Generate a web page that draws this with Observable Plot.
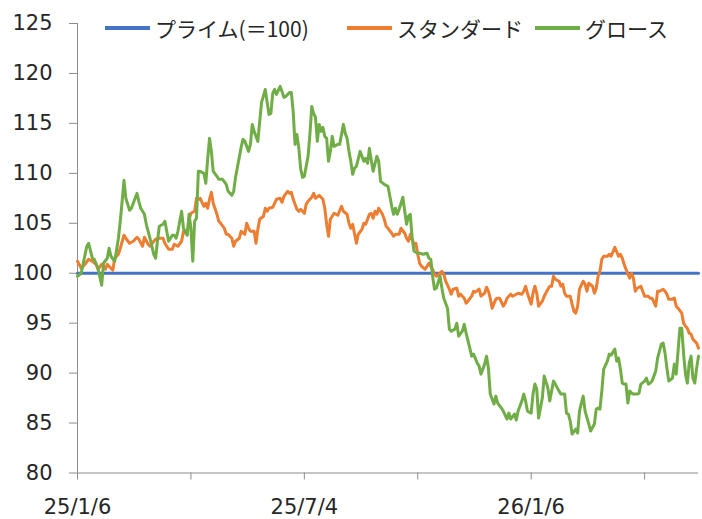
<!DOCTYPE html>
<html>
<head>
<meta charset="utf-8">
<script src="https://cdn.jsdelivr.net/npm/d3@7"></script>
<script src="https://cdn.jsdelivr.net/npm/@observablehq/plot@0.6"></script>
<style>
  html, body { margin: 0; padding: 0; background: #fff; }
  #wrap { position: relative; width: 702px; height: 519px; overflow: hidden; }
  #chart { position: absolute; left: 0; top: 0; }
  .legend-item { position: absolute; top: 14px; height: 28px; display: flex; align-items: center;
    font-family: "Noto Sans CJK JP", "Noto Sans", sans-serif; font-size: 21px; color: #262626; white-space: nowrap; }
  .legend-swatch { width: 45px; height: 3.5px; margin-right: 5px; }
</style>
</head>
<body>
<div id="wrap">
  <div id="chart"></div>
  <div id="legend"></div>
</div>
<script>
// Series names
const seriesNames = ["プライム(＝100)", "スタンダード", "グロース"];
const seriesColors = ["#4472C4", "#ED7D31", "#70AD47"];

// X axis: trading-day index since 25/1/6
const xTickDays = [0, 61, 122, 183, 244, 305];
const xTickLabels = ["25/1/6", "", "25/7/4", "", "26/1/6", ""];
const yTicks = [80, 85, 90, 95, 100, 105, 110, 115, 120, 125];

// プライム (=100) reference
const primeSeries = [[0, 100], [334, 100]];

// スタンダード [day, value]
const standardSeries = [[0,101.2],[2,100.5],[4,100.9],[6,101.4],[8,101.2],[10,100.9],[11,100.4],[13,100.9],[15,100.4],[16,100.9],[19,100.3],[20,101.5],[22,101.9],[23,102.5],[25,103.8],[26,103.5],[28,103.0],[30,103.2],[32,103.6],[33,103.4],[35,102.7],[36,103.6],[38,102.9],[39,102.7],[41,103.2],[42,103.4],[44,103.5],[46,103.5],[47,103.0],[49,102.4],[51,102.4],[52,102.9],[54,102.7],[56,103.2],[57,104.2],[59,103.9],[60,105.4],[61,106.0],[63,106.2],[64,107.5],[65,107.4],[66,107.5],[68,106.7],[69,107.0],[70,106.5],[71,107.4],[72,108.1],[73,107.0],[75,105.9],[76,105.2],[77,105.0],[79,104.5],[80,103.9],[81,103.9],[83,103.5],[84,102.7],[85,103.2],[87,103.5],[88,104.2],[90,103.9],[91,105.0],[92,104.5],[93,104.2],[95,104.2],[96,103.0],[97,104.4],[98,105.4],[100,105.7],[101,106.5],[102,106.2],[103,106.5],[105,106.6],[106,107.0],[107,107.4],[109,107.5],[110,107.1],[111,107.7],[113,108.2],[114,108.0],[115,108.1],[116,107.4],[118,106.4],[119,106.2],[120,106.4],[122,106.0],[123,106.9],[124,107.2],[126,107.6],[127,108.0],[128,107.5],[130,107.8],[131,107.6],[132,107.4],[133,106.5],[134,104.9],[135,103.7],[136,105.4],[138,106.0],[139,105.9],[140,105.8],[142,106.7],[143,106.2],[145,105.9],[146,105.0],[147,104.5],[148,104.9],[150,103.0],[151,103.9],[153,104.4],[154,105.0],[155,104.9],[157,105.9],[158,106.0],[159,105.5],[160,106.2],[161,105.9],[162,106.5],[164,105.9],[165,105.4],[166,104.7],[167,104.5],[169,104.0],[170,103.7],[171,103.9],[173,103.9],[174,104.5],[176,104.0],[177,103.5],[178,103.2],[179,103.9],[181,102.9],[182,103.0],[183,101.9],[184,101.0],[185,100.7],[187,100.4],[188,100.7],[189,101.0],[191,100.4],[192,99.9],[193,99.7],[195,100.0],[196,100.2],[197,99.9],[198,99.2],[200,98.4],[201,97.9],[202,98.4],[204,98.5],[205,97.7],[206,97.9],[208,97.5],[209,97.0],[210,97.2],[212,97.7],[213,98.2],[214,98.1],[216,98.4],[217,97.7],[219,98.0],[220,98.6],[221,98.2],[222,97.5],[223,96.5],[225,97.4],[226,97.5],[227,97.5],[229,96.7],[230,97.0],[231,97.5],[233,97.9],[234,97.7],[236,97.9],[237,98.0],[239,97.9],[240,98.2],[241,98.7],[242,98.0],[244,96.9],[245,98.0],[246,98.7],[247,98.0],[248,96.7],[250,97.2],[251,97.7],[253,98.4],[254,98.7],[255,98.7],[256,99.7],[257,99.4],[259,99.2],[260,98.7],[261,98.9],[262,98.0],[263,97.7],[265,97.7],[266,96.9],[267,96.2],[268,96.0],[269,96.7],[270,98.4],[272,99.2],[273,98.9],[274,98.2],[275,99.0],[277,98.7],[278,98.0],[279,98.5],[280,99.7],[281,100.2],[282,101.4],[283,101.7],[285,101.7],[286,101.9],[287,101.7],[289,102.6],[291,101.7],[292,101.9],[293,101.5],[294,100.9],[296,99.9],[297,99.5],[298,100.0],[299,99.5],[300,98.2],[301,98.5],[303,98.7],[304,98.2],[305,97.7],[307,97.7],[308,97.5],[309,97.5],[311,96.7],[312,98.2],[313,98.2],[315,98.4],[316,98.2],[317,97.9],[318,97.4],[320,97.4],[321,97.5],[322,96.7],[323,96.5],[325,96.0],[326,95.0],[327,94.7],[328,94.5],[329,94.0],[330,93.9],[331,93.4],[333,93.0],[334,92.5]];

// グロース [day, value]
const growthSeries = [[0,99.7],[2,100.0],[5,102.7],[6,103.0],[8,101.5],[9,101.4],[11,100.5],[13,98.8],[14,101.0],[16,101.5],[17,102.5],[18,101.7],[20,101.2],[21,102.3],[22,103.5],[23,105.2],[24,107.2],[25,109.3],[26,107.5],[28,106.3],[29,106.5],[30,107.0],[32,108.0],[33,107.2],[34,106.5],[36,105.9],[37,104.9],[39,103.5],[41,101.9],[42,101.5],[43,103.2],[44,104.7],[46,104.9],[47,105.2],[48,104.2],[49,103.2],[51,103.8],[52,103.8],[53,103.5],[54,104.2],[56,106.2],[57,104.5],[59,103.8],[60,105.9],[61,104.5],[62,101.2],[63,105.2],[64,105.5],[65,110.2],[66,110.2],[68,110.0],[69,109.0],[70,111.4],[71,113.5],[72,112.2],[73,110.2],[75,109.7],[76,109.4],[78,109.4],[80,108.9],[81,108.2],[83,107.8],[84,108.2],[85,109.6],[87,111.6],[88,112.6],[89,113.4],[90,113.2],[92,112.2],[93,112.9],[94,114.9],[95,114.2],[97,113.2],[98,115.2],[99,117.1],[101,118.4],[102,117.1],[103,115.9],[104,116.0],[105,118.0],[106,118.4],[107,117.9],[109,118.7],[110,118.2],[111,117.6],[112,117.7],[114,118.1],[115,118.1],[116,116.2],[117,112.9],[118,113.9],[119,112.6],[120,110.5],[121,109.6],[122,109.7],[124,111.7],[125,113.9],[126,116.7],[127,116.0],[128,115.6],[129,113.2],[130,114.9],[131,114.2],[132,114.6],[133,113.7],[134,113.5],[135,111.2],[136,112.2],[137,113.7],[138,112.7],[140,112.9],[141,112.9],[142,113.9],[143,114.9],[144,114.0],[145,113.5],[146,112.2],[147,111.2],[148,109.9],[149,110.5],[150,110.7],[152,112.2],[153,111.7],[154,111.2],[155,111.5],[156,111.0],[157,112.5],[158,111.3],[159,110.2],[161,111.7],[162,111.2],[163,109.2],[165,108.9],[167,108.7],[168,107.7],[169,106.7],[170,105.9],[171,106.5],[172,105.9],[173,106.4],[174,107.0],[175,107.6],[176,106.2],[177,104.9],[178,105.7],[179,105.9],[180,103.5],[181,102.2],[183,102.0],[184,102.0],[186,101.9],[188,102.0],[189,101.5],[190,101.4],[191,99.7],[192,98.4],[193,98.5],[195,99.7],[196,98.5],[197,97.5],[199,96.5],[200,94.4],[201,94.2],[203,94.4],[204,95.0],[205,93.7],[207,94.2],[208,94.9],[209,94.0],[211,92.5],[212,91.7],[213,91.9],[215,91.0],[216,90.7],[217,89.9],[219,90.9],[220,91.7],[221,90.5],[222,87.9],[224,86.9],[225,87.7],[226,87.0],[228,86.5],[229,86.2],[231,85.4],[232,86.0],[233,85.4],[235,85.9],[236,85.3],[237,86.2],[239,87.2],[240,87.9],[241,87.2],[242,86.2],[244,86.0],[245,87.9],[246,88.9],[247,88.4],[248,85.5],[250,87.5],[251,89.7],[253,88.5],[254,87.2],[255,88.2],[256,89.2],[257,88.9],[259,88.2],[260,87.9],[262,87.9],[263,86.0],[264,85.9],[265,85.2],[266,83.9],[268,84.4],[269,84.0],[270,86.2],[271,87.0],[272,87.7],[273,86.2],[275,84.9],[276,84.2],[278,84.9],[279,86.4],[280,86.5],[281,86.4],[282,88.2],[283,90.4],[285,91.2],[286,91.9],[287,91.8],[289,92.4],[290,91.2],[291,91.5],[292,90.4],[293,89.0],[294,88.9],[295,88.9],[296,87.0],[297,88.2],[298,88.0],[299,87.9],[301,87.9],[302,88.0],[303,88.9],[305,89.2],[306,89.5],[307,88.9],[308,89.0],[309,89.2],[310,89.7],[311,90.2],[312,91.5],[314,92.9],[315,93.0],[316,92.0],[317,90.5],[318,89.2],[320,89.5],[321,90.9],[322,89.9],[323,92.2],[324,94.5],[325,94.5],[326,91.9],[327,89.9],[328,89.0],[329,91.0],[330,91.7],[331,89.5],[332,89.0],[333,90.5],[334,91.7]];

const toRows = (arr) => arr.map(([day, value]) => ({day, value}));
const prime = toRows(primeSeries);
const standard = toRows(standardSeries);
const growth = toRows(growthSeries);
const tickLabelMap = new Map(xTickDays.map((d, i) => [d, xTickLabels[i]]));

const axisColor = "#8c8c8c";
const textColor = "#262626";

const chart = Plot.plot({
  width: 702,
  height: 519,
  marginLeft: 77,
  marginRight: 4,
  marginTop: 23,
  marginBottom: 46.5,
  x: {domain: [0, 334]},
  y: {domain: [80, 125]},
  style: {
    fontFamily: "'DejaVu Sans', 'Noto Sans CJK JP', sans-serif",
    fontSize: "21px",
    color: textColor,
    background: "white",
    overflow: "visible"
  },
  marks: [
    Plot.axisY({ticks: yTicks, tickSize: 8, tickPadding: 17, stroke: axisColor, fill: textColor, label: null, tickFormat: d => String(d)}),
    Plot.axisX({ticks: xTickDays, tickSize: 7, tickPadding: 19, stroke: axisColor, fill: textColor, label: null, tickFormat: d => tickLabelMap.get(d) ?? ""}),
    Plot.ruleX([0], {stroke: axisColor, strokeWidth: 1}),
    Plot.ruleY([80], {stroke: axisColor, strokeWidth: 1}),
    Plot.line(prime, {x: "day", y: "value", stroke: seriesColors[0], strokeWidth: 3}),
    Plot.line(standard, {x: "day", y: "value", stroke: seriesColors[1], strokeWidth: 3, strokeLinejoin: "round"}),
    Plot.line(growth, {x: "day", y: "value", stroke: seriesColors[2], strokeWidth: 3, strokeLinejoin: "round"})
  ]
});
document.getElementById("chart").appendChild(chart);

// Legend (HTML, placed over the top of the plot area)
const legendLefts = [105, 347, 535];
const legend = document.getElementById("legend");
seriesNames.forEach((name, i) => {
  const item = document.createElement("div");
  item.className = "legend-item";
  item.style.left = legendLefts[i] + "px";
  const sw = document.createElement("span");
  sw.className = "legend-swatch";
  sw.style.background = seriesColors[i];
  const label = document.createElement("span");
  label.textContent = name;
  item.appendChild(sw);
  item.appendChild(label);
  legend.appendChild(item);
});
</script>
</body>
</html>
